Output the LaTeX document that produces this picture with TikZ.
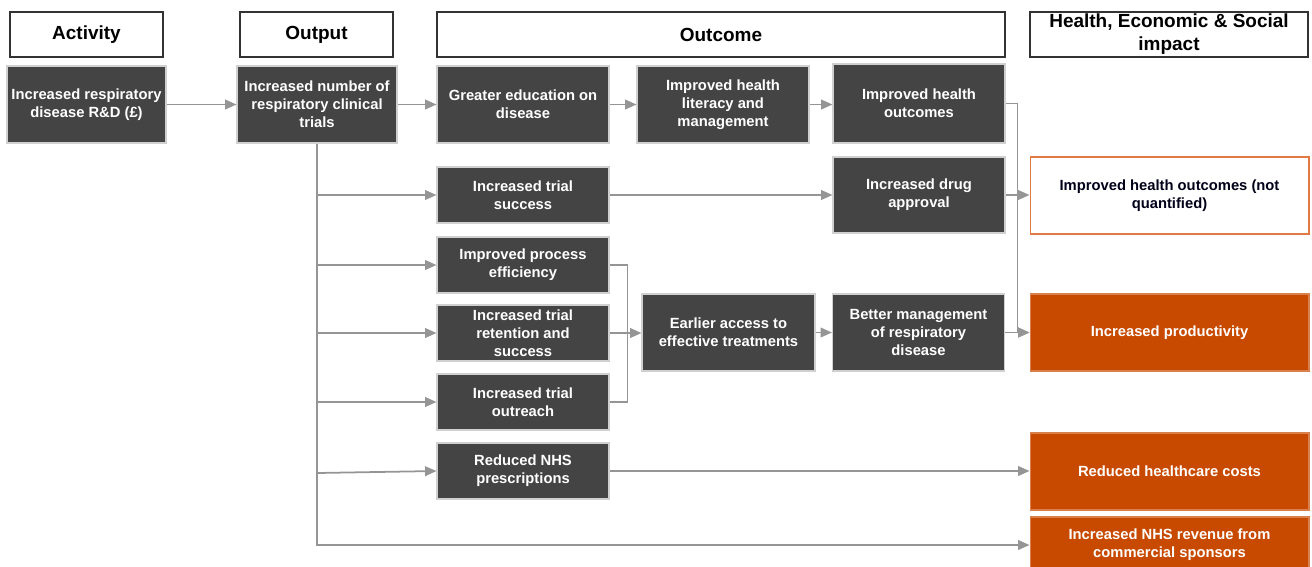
\documentclass[tikz,border=0pt]{standalone}
\usepackage{fontspec}
\setmainfont{Liberation Sans}
\usetikzlibrary{arrows.meta}
\definecolor{boxgray}{HTML}{444444}
\definecolor{rimgray}{HTML}{D0D0D0}
\definecolor{linkgray}{HTML}{959595}
\definecolor{impactorange}{HTML}{C84A00}
\definecolor{rimorange}{HTML}{E27A45}
\tikzset{
  head box/.style={
    draw=black!80,
    line width=0.8pt,
    fill=white,
    minimum width={#1*0.02cm},
    minimum height=0.9cm,
    inner sep=1pt,
    align=center,
    font=\fontsize{10.8}{13}\selectfont\bfseries,
  },
  dark box/.style={
    fill=boxgray,
    draw=rimgray,
    line width=0.6pt,
    text=white,
    minimum width=3.44cm,
    minimum height={#1*0.02cm},
    inner sep=1pt,
    align=center,
    font=\fontsize{8.4}{10.2}\selectfont\bfseries,
  },
  impact box/.style={
    fill=impactorange,
    draw=impactorange!70,
    line width=0.6pt,
    text=white,
    minimum width=5.58cm,
    minimum height={#1*0.02cm},
    inner sep=1pt,
    align=center,
    font=\fontsize{8.4}{10.2}\selectfont\bfseries,
  },
  plain impact/.style={
    impact box=#1,
    fill=white,
    draw=rimorange,
    text=black!90!blue,
  },
  link/.style={
    draw=linkgray,
    line width=1pt,
    -{Triangle[length=6.5pt,width=5.5pt]},
  }
}

\begin{document}
\begin{tikzpicture}[x=0.02cm, y=-0.02cm]
        \useasboundingbox (0,0) rectangle (1312,566);

        \node [head box=153] (hact) at (86.5,34.5) {Activity};
        \node [head box=153] (hout) at (316.5,34.5) {Output};
        \node [head box=568] (houtc) at (721,34.5) {Outcome};
        \node [head box=278] (himp) at (1169,34.5) {Health, Economic \& Social\\impact};

        \node [dark box=77, minimum width=3.18cm] (act) at (86.5,104.5) {Increased respiratory\\disease R\&D (£)};
        \node [dark box=77, minimum width=3.2cm] (outp) at (317,104.5) {Increased number of\\respiratory clinical\\trials};
        \node [dark box=77] (edu) at (523,104.5) {Greater education on\\disease};
        \node [dark box=77] (lit) at (723,104.5) {Improved health\\literacy and\\management};
        \node [dark box=79] (hlth) at (919,103.5) {Improved health\\outcomes};
        \node [dark box=56] (tsuc) at (523,195) {Increased trial\\success};
        \node [dark box=76] (drug) at (919,195) {Increased drug\\approval};
        \node [dark box=56] (proc) at (523,265) {Improved process\\efficiency};
        \node [dark box=56] (ret) at (523,333) {Increased trial\\retention and\\success};
        \node [dark box=56] (outr) at (523,402) {Increased trial\\outreach};
        \node [dark box=77, minimum width=3.46cm] (early) at (728.5,332.5) {Earlier access to\\effective treatments};
        \node [dark box=77] (better) at (918.5,332.5) {Better management\\of respiratory\\disease};
        \node [dark box=56] (nhs) at (523,471) {Reduced NHS\\prescriptions};

        \node [plain impact=77] (notq) at (1169.5,195.5) {Improved health outcomes (not\\quantified)};
        \node [impact box=77] (prod) at (1169.5,332.5) {Increased productivity};
        \node [impact box=77] (cost) at (1169.5,471.5) {Reduced healthcare costs};
        \node [impact box=56] (rev) at (1169.5,545) {Increased NHS revenue from\\commercial sponsors};

        \draw [link] (act) -- (outp);
        \draw [link] (outp) -- (edu);
        \draw [link] (edu) -- (lit);
        \draw [link] (lit.east) -- (lit.east -| hlth.west);

        \draw [link] (outp.south) |- (rev.west);
        \draw [link] (outp.south |- tsuc) -- (tsuc);
        \draw [link] (outp.south |- proc) -- (proc);
        \draw [link] (outp.south |- ret) -- (ret);
        \draw [link] (outp.south |- outr) -- (outr);
        \draw [link] (outp.south |- 0,473) -- (nhs.west);

        \draw [link] (tsuc.east) -- (tsuc.east -| drug.west);
        \draw [draw=linkgray, line width=1pt] (proc.east) -- ++(18,0) |- (outr.east);
        \draw [link] (ret.east) -- (ret.east -| early.west);
        \draw [link] (early) -- (better);

        \draw [link] (hlth.east) -- ++(12,0) coordinate (bend) |- (prod.west);
        \draw [link] (drug.east) -- (drug.east -| notq.west);
        \draw [link] (better.east) -- (better.east -| prod.west);
        \draw [link] (nhs.east) -- (nhs.east -| cost.west);
\end{tikzpicture}
\end{document}
